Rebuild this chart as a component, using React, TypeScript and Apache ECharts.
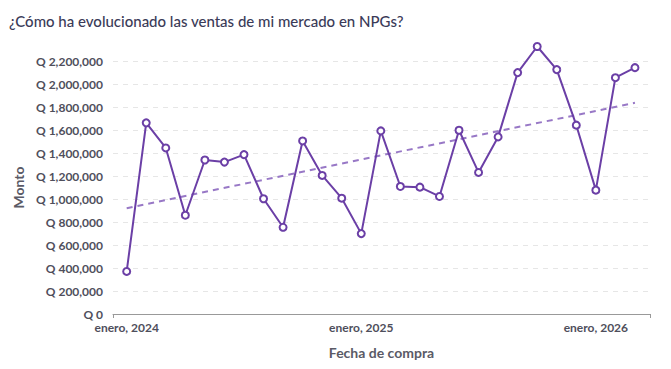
import React, { useEffect, useRef } from "react";
import * as echarts from "echarts";

const titleText = "¿Cómo ha evolucionado las ventas de mi mercado en NPGs?";
const months = [
  "2024-01", "2024-02", "2024-03", "2024-04", "2024-05", "2024-06", "2024-07", "2024-08", "2024-09",
  "2024-10", "2024-11", "2024-12", "2025-01", "2025-02", "2025-03", "2025-04", "2025-05", "2025-06",
  "2025-07", "2025-08", "2025-09", "2025-10", "2025-11", "2025-12", "2026-01", "2026-02", "2026-03",
];
const ventas = [
  370000, 1662000, 1444000, 859000, 1339000, 1321000, 1386000, 1002000, 754000,
  1505000, 1205000, 1007000, 699000, 1592000, 1109000, 1103000, 1022000, 1598000,
  1231000, 1540000, 2099000, 2326000, 2125000, 1642000, 1077000, 2055000, 2142000,
];
const mesNombre = "enero";
const yTicksMax = 2200000;
const yTickStep = 200000;

export default function App() {
  const ref = useRef<HTMLDivElement>(null);
  useEffect(() => {
    if (!ref.current) return;
    const chart = echarts.init(ref.current, null, { renderer: "svg" });
    const n = ventas.length;
    const xs = ventas.map((_, i) => i);
    const mx = xs.reduce((a, b) => a + b, 0) / n;
    const my = ventas.reduce((a, b) => a + b, 0) / n;
    let sxy = 0, sxx = 0;
    xs.forEach((x, i) => { sxy += (x - mx) * (ventas[i] - my); sxx += (x - mx) * (x - mx); });
    const slope = sxy / sxx;
    const icpt = my - slope * mx;
    const trend = [[0, icpt], [n - 1, icpt + slope * (n - 1)]];
    const janIdx = months.map((m, i) => (m.endsWith("-01") ? i : -1)).filter((i) => i >= 0);
    const xMin = -0.7, xMax = n - 1 + 0.77;
    const labelColor = "#4f4f5c";
    const nameColor = "#5a5a66";
    chart.setOption({
      animation: false,
      textStyle: { fontFamily: "Lato" },
      title: {
        text: titleText, left: 4, top: 8,
        textStyle: { fontFamily: "Lato", fontSize: 15, fontWeight: 500, color: "#3b3b58" },
      },
      grid: { left: 113, right: 21, top: 61, bottom: 55, containLabel: false, outerBoundsMode: "none" },
      xAxis: {
        type: "value", min: xMin, max: xMax,
        name: "Fecha de compra", nameLocation: "middle", nameGap: 31,
        nameTextStyle: { fontFamily: "Lato", fontWeight: "bold", fontSize: 14, color: nameColor },
        axisLine: { show: true, lineStyle: { color: "#999", width: 1 } },
        axisTick: { show: true, customValues: [xMin, xMax], length: 4, lineStyle: { color: "#999" } },
        splitLine: { show: false },
        axisLabel: {
          customValues: janIdx, margin: 7,
          fontFamily: "Lato", fontWeight: "bold", fontSize: 12, color: labelColor,
          formatter: (v: number) => mesNombre + ", " + months[Math.round(v)].slice(0, 4),
        },
      },
      yAxis: {
        type: "value", min: 0, max: yTicksMax, interval: yTickStep,
        name: "Monto", nameLocation: "middle", nameGap: 80, nameRotate: 90,
        nameTextStyle: { fontFamily: "Lato", fontWeight: "bold", fontSize: 14, color: nameColor },
        axisLine: { show: false }, axisTick: { show: false },
        splitLine: { show: true, lineStyle: { color: "#e6e6e6", type: [5, 5], width: 1 } },
        axisLabel: {
          margin: 10, fontFamily: "Lato", fontWeight: "bold", fontSize: 12, color: labelColor,
          formatter: (v: number) => "Q " + v.toLocaleString("en-US"),
        },
      },
      series: [
        {
          type: "line", data: trend, clip: false, symbol: "none", silent: true,
          lineStyle: { color: "#9878c6", width: 2, type: [6, 5] }, z: 1,
        },
        {
          type: "line", data: ventas.map((v, i) => [i, v]), clip: false,
          symbol: "circle", symbolSize: 7,
          itemStyle: { color: "#fff", borderColor: "#6b3fa6", borderWidth: 2 },
          lineStyle: { color: "#6b3fa6", width: 2 }, z: 3,
        },
      ],
    });
    return () => chart.dispose();
  }, []);
  return <div ref={ref} style={{ width: 671, height: 369, position: "absolute", left: 0, top: 0 }} />;
}
